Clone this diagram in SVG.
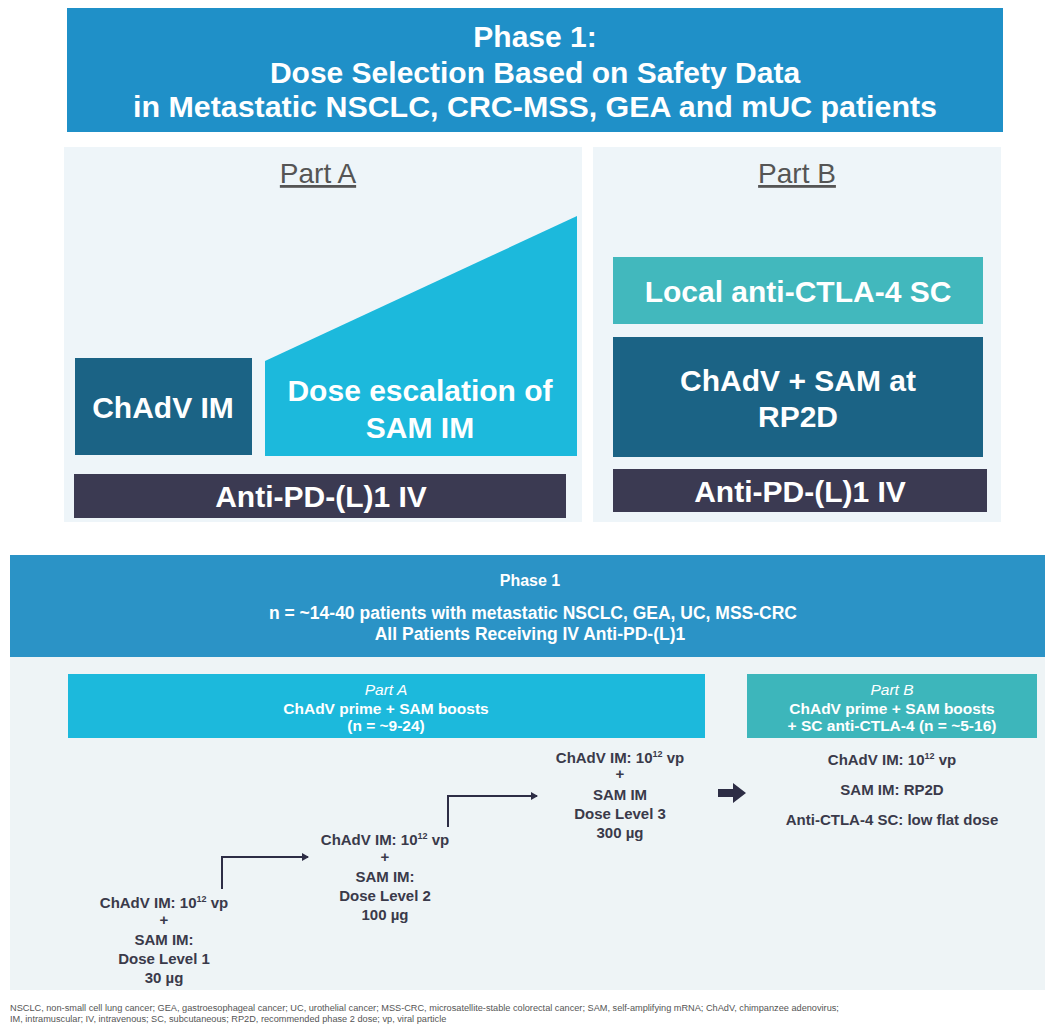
<svg xmlns="http://www.w3.org/2000/svg" width="1045" height="1025" viewBox="0 0 1045 1025">
<style>
.big{font-family:"Liberation Sans",Arial,sans-serif;font-weight:bold;font-size:30px;fill:#fff;text-anchor:middle}
.part{font-family:"Liberation Sans",Arial,sans-serif;font-size:28px;fill:#555;text-anchor:middle;text-decoration:underline}
.hd{font-family:"Liberation Sans",Arial,sans-serif;font-weight:bold;fill:#fff;text-anchor:middle}
.bar{font-family:"Liberation Sans",Arial,sans-serif;font-size:15.5px;fill:#fff;text-anchor:middle}
.dt{font-family:"Liberation Sans",Arial,sans-serif;font-weight:bold;font-size:15px;fill:#3a3a4a;text-anchor:middle}
.ft{font-family:"Liberation Sans",Arial,sans-serif;font-size:9.2px;fill:#555}
.ln{fill:none;stroke:#2d2d45;stroke-width:2}
</style>
<defs>
<marker id="ah" markerWidth="8" markerHeight="8" refX="6" refY="4" orient="auto" markerUnits="userSpaceOnUse">
<path d="M0,0 L7,4 L0,8 Z" fill="#2d2d45"/>
</marker>
</defs>
<rect width="1045" height="1025" fill="#fff"/>

<g id="top-header">
<rect x="67" y="8" width="936" height="124" fill="#1f90c8"/>
<text class="big" x="535" y="47">Phase 1:</text>
<text class="big" x="535" y="83">Dose Selection Based on Safety Data</text>
<text class="big" x="535" y="117" textLength="804" lengthAdjust="spacingAndGlyphs">in Metastatic NSCLC, CRC-MSS, GEA and mUC patients</text>
</g>

<g id="panel-a">
<rect x="64" y="147" width="518" height="375" fill="#eef5f9"/>
<text class="part" x="318" y="183">Part A</text>
</g>
<g id="chadv-im">
<rect x="75" y="358" width="177" height="97" fill="#1b6385"/>
<text class="big" x="163" y="418">ChAdV IM</text>
</g>
<g id="dose-escalation">
<polygon points="265,361 577,216 577,456 265,456" fill="#1cb9dc"/>
<text class="big" x="420" y="401">Dose escalation of</text>
<text class="big" x="420" y="438">SAM IM</text>
</g>
<g id="anti-pd-a">
<rect x="74" y="474" width="492" height="44" fill="#3b3a52"/>
<text class="big" x="321" y="507">Anti-PD-(L)1 IV</text>
</g>

<g id="panel-b">
<rect x="593" y="147" width="408" height="375" fill="#eef5f9"/>
<text class="part" x="797" y="183">Part B</text>
</g>
<g id="local-ctla4">
<rect x="613" y="257" width="370" height="67" fill="#42b8bd"/>
<text class="big" x="798" y="302">Local anti-CTLA-4 SC</text>
</g>
<g id="chadv-sam-rp2d">
<rect x="613" y="337" width="370" height="120" fill="#1b6385"/>
<text class="big" x="798" y="391">ChAdV + SAM at</text>
<text class="big" x="798" y="427">RP2D</text>
</g>
<g id="anti-pd-b">
<rect x="613" y="469" width="374" height="43" fill="#3b3a52"/>
<text class="big" x="800" y="502">Anti-PD-(L)1 IV</text>
</g>

<g id="bottom-header">
<rect x="10" y="555" width="1035" height="102" fill="#2b93c6"/>
<text class="hd" x="530" y="586" font-size="16">Phase 1</text>
<text class="hd" x="533" y="619" font-size="17.5">n = ~14-40 patients with metastatic NSCLC, GEA, UC, MSS-CRC</text>
<text class="hd" x="530" y="640" font-size="17.5">All Patients Receiving IV Anti-PD-(L)1</text>
</g>
<g id="bottom-panel">
<rect x="10" y="657" width="1035" height="333" fill="#eef4f6"/>
</g>

<g id="part-a-bar">
<rect x="68" y="674" width="637" height="64" fill="#1cb9dc"/>
<text class="bar" x="386" y="695" font-style="italic" font-size="17">Part A</text>
<text class="bar" x="386" y="714" font-weight="bold">ChAdV prime + SAM boosts</text>
<text class="bar" x="386" y="731" font-weight="bold">(n = ~9-24)</text>
</g>
<g id="part-b-bar">
<rect x="747" y="674" width="290" height="64" fill="#3db6bb"/>
<text class="bar" x="892" y="695" font-style="italic" font-size="17">Part B</text>
<text class="bar" x="892" y="714" font-weight="bold">ChAdV prime + SAM boosts</text>
<text class="bar" x="892" y="731" font-weight="bold">+ SC anti-CTLA-4 (n = ~5-16)</text>
</g>

<g id="part-b-details">
<text class="dt" x="892" y="765">ChAdV IM: 10<tspan dy="-6" font-size="9">12</tspan><tspan dy="6"> vp</tspan></text>
<text class="dt" x="892" y="795">SAM IM: RP2D</text>
<text class="dt" x="892" y="825">Anti-CTLA-4 SC: low flat dose</text>
</g>

<g id="dose-level-1">
<text class="dt" x="164" y="908">ChAdV IM: 10<tspan dy="-6" font-size="9">12</tspan><tspan dy="6"> vp</tspan></text>
<text class="dt" x="164" y="925">+</text>
<text class="dt" x="164" y="945">SAM IM:</text>
<text class="dt" x="164" y="964">Dose Level 1</text>
<text class="dt" x="164" y="983">30 µg</text>
</g>
<g id="dose-level-2">
<text class="dt" x="385" y="845">ChAdV IM: 10<tspan dy="-6" font-size="9">12</tspan><tspan dy="6"> vp</tspan></text>
<text class="dt" x="385" y="862">+</text>
<text class="dt" x="385" y="882">SAM IM:</text>
<text class="dt" x="385" y="901">Dose Level 2</text>
<text class="dt" x="385" y="920">100 µg</text>
</g>
<g id="dose-level-3">
<text class="dt" x="620" y="763">ChAdV IM: 10<tspan dy="-6" font-size="9">12</tspan><tspan dy="6"> vp</tspan></text>
<text class="dt" x="620" y="779">+</text>
<text class="dt" x="620" y="800">SAM IM</text>
<text class="dt" x="620" y="819">Dose Level 3</text>
<text class="dt" x="620" y="838">300 µg</text>
</g>

<g id="connectors">
<path class="ln" d="M222,889 V857 H308" marker-end="url(#ah)"/>
<path class="ln" d="M448,827 V796 H537" marker-end="url(#ah)"/>
<path d="M718,789 H733 V783 L746,793 L733,803 V797 H718 Z" fill="#2d2d45"/>
</g>

<g id="footer">
<text class="ft" x="10" y="1011">NSCLC, non-small cell lung cancer; GEA, gastroesophageal cancer; UC, urothelial cancer; MSS-CRC, microsatellite-stable colorectal cancer; SAM, self-amplifying mRNA; ChAdV, chimpanzee adenovirus;</text>
<text class="ft" x="10" y="1022">IM, intramuscular; IV, intravenous; SC, subcutaneous; RP2D, recommended phase 2 dose; vp, viral particle</text>
</g>
</svg>
